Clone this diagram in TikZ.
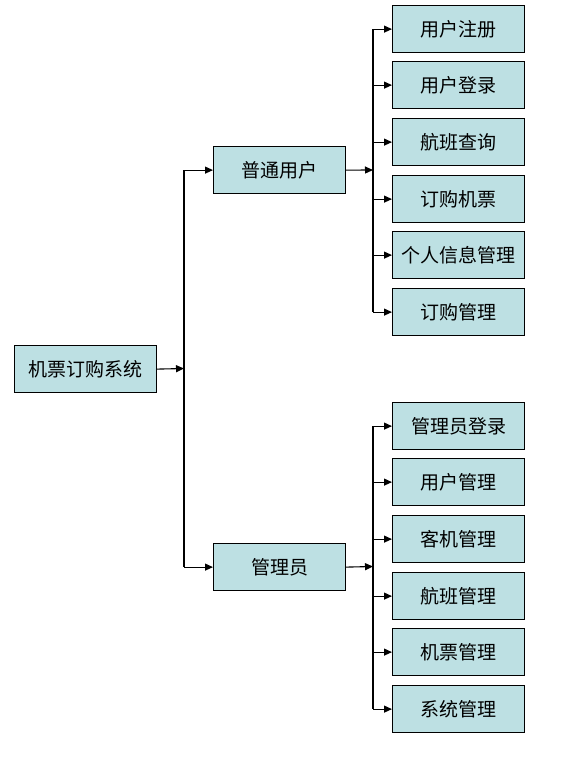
\documentclass[tikz,border=0pt]{standalone}
\usepackage{fontspec}
\newfontfamily\cjk{Noto Sans CJK SC}
\usetikzlibrary{arrows.meta}
\definecolor{boxfill}{RGB}{189,224,227}
\tikzset{
  box/.style={draw=black, line width=1.2pt, fill=boxfill, minimum width=132pt, minimum height=47pt, inner sep=0pt, anchor=north west, font=\cjk\fontsize{19}{19}\selectfont},
  conn/.style={line width=1.1pt, black},
  arr/.style={conn, -{Triangle[length=8pt,width=7pt]}}
}
\begin{document}
\begin{tikzpicture}[x=1pt,y=-1pt]
\useasboundingbox (0,0) rectangle (583,761);
\node[box, minimum width=142pt] (root) at (14,345) {机票订购系统};
\node[box] (u) at (213,146) {普通用户};
\node[box] (a) at (213,543) {管理员};
\node[box] (u1) at (392,5) {用户注册};
\node[box] (u2) at (392,61) {用户登录};
\node[box] (u3) at (392,118) {航班查询};
\node[box] (u4) at (392,175) {订购机票};
\node[box] (u5) at (392,231) {个人信息管理};
\node[box] (u6) at (392,288) {订购管理};
\node[box] (a1) at (392,402) {管理员登录};
\node[box] (a2) at (392,458) {用户管理};
\node[box] (a3) at (392,515) {客机管理};
\node[box] (a4) at (392,572) {航班管理};
\node[box] (a5) at (392,628) {机票管理};
\node[box] (a6) at (392,685) {系统管理};
\coordinate (b0) at (184,368.5);
\coordinate (b1) at (373,170);
\coordinate (b2) at (373,566.5);
\draw[arr] (root.east) -- (b0);
\draw[conn] (b0 |- u.west) -- (b0 |- a.west);
\draw[arr] (b0 |- u.west) -- (u.west);
\draw[arr] (b0 |- a.west) -- (a.west);
\draw[arr] (u.east) -- (b1);
\draw[arr] (a.east) -- (b2);
\draw[conn] (b1 |- u1.west) -- (b1 |- u6.west);
\draw[conn] (b2 |- a1.west) -- (b2 |- a6.west);
\foreach \n in {u1,u2,u3,u4,u5,u6} {\draw[arr] (b1 |- \n.west) -- (\n.west);}
\foreach \n in {a1,a2,a3,a4,a5,a6} {\draw[arr] (b2 |- \n.west) -- (\n.west);}
\end{tikzpicture}
\end{document}
